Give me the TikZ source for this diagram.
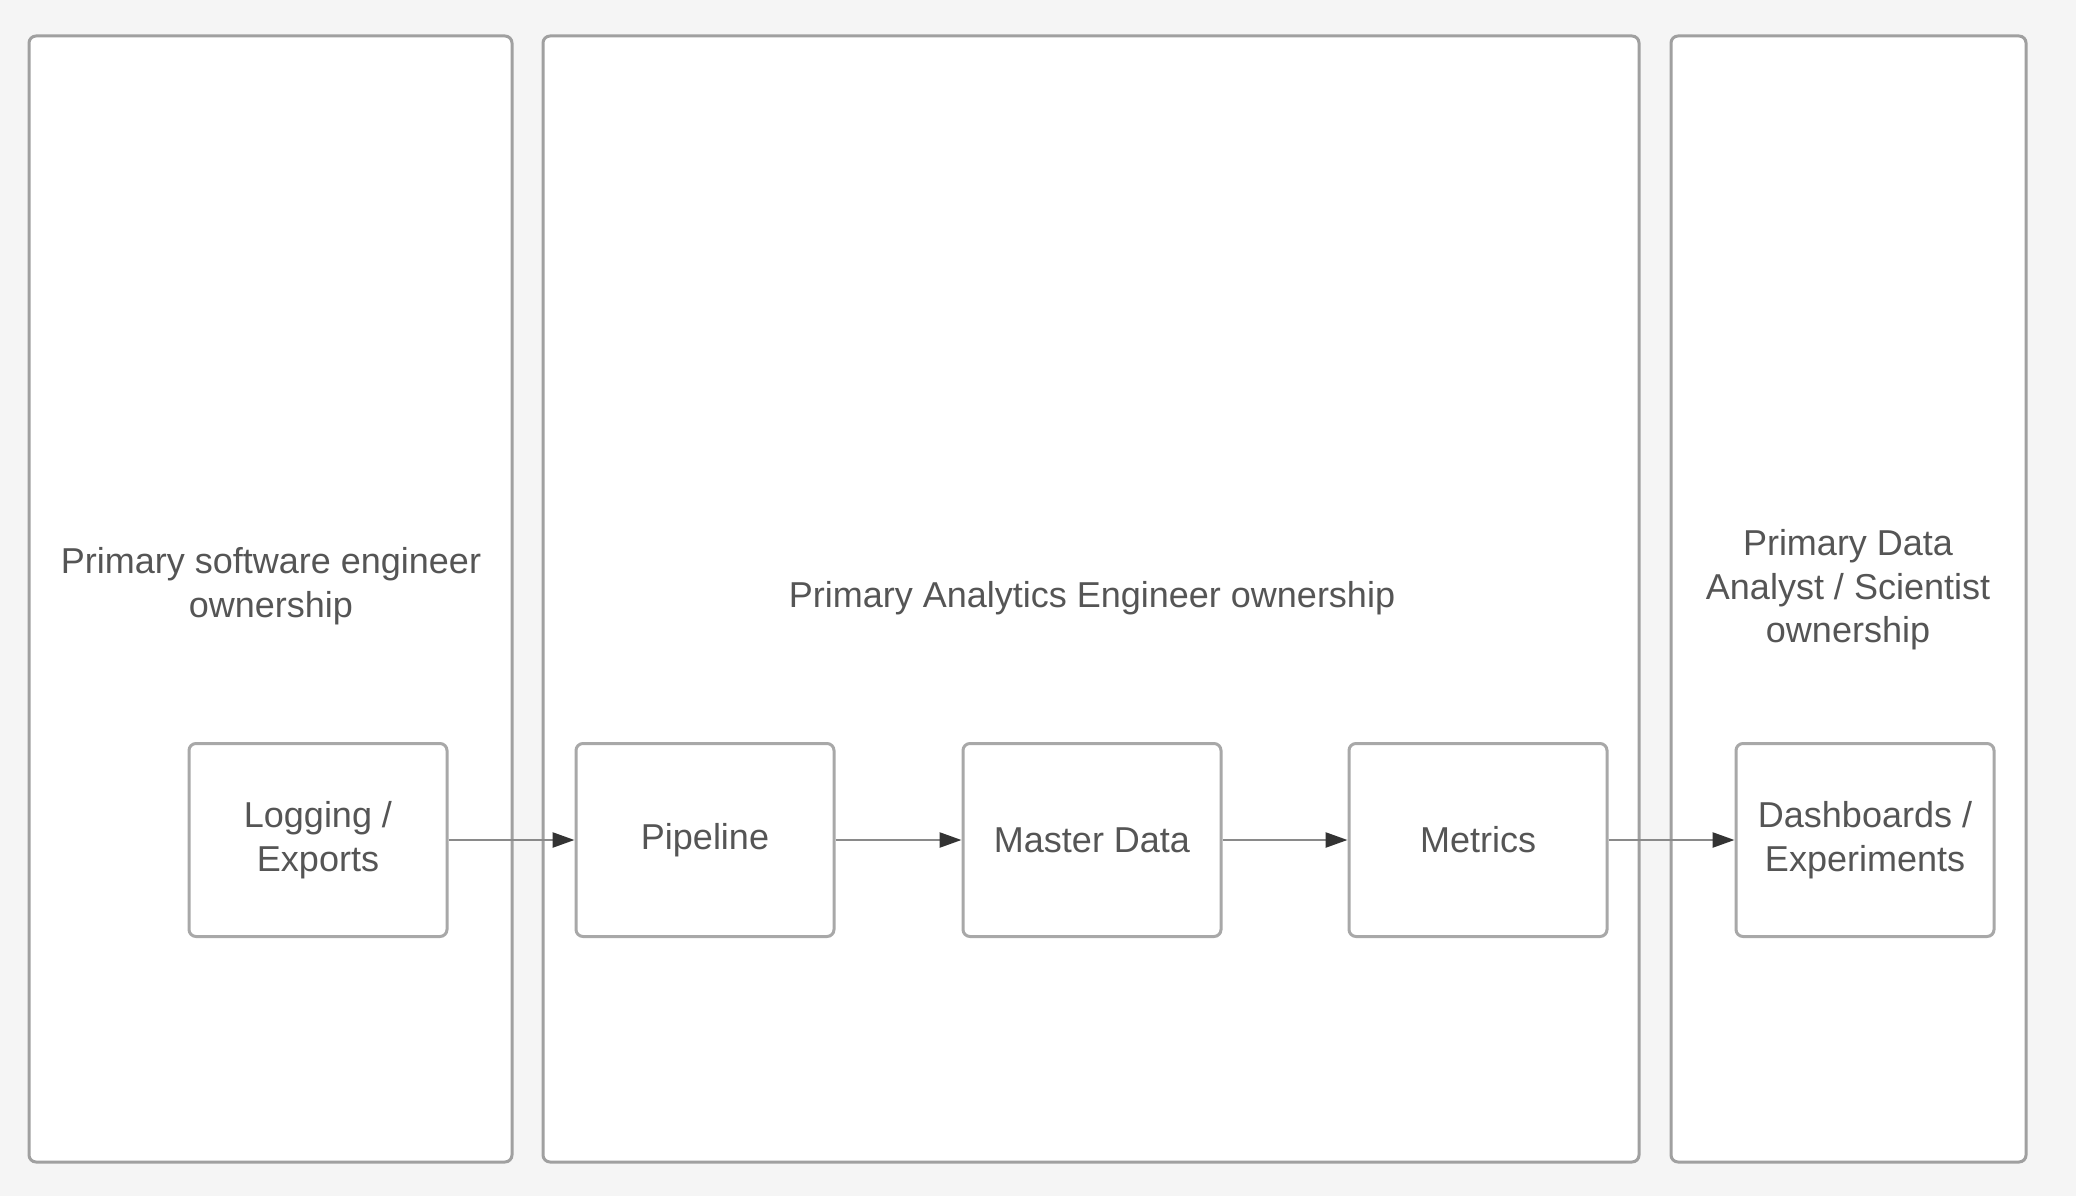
\documentclass[tikz,border=0pt]{standalone}
\usepackage{fontspec}
\setmainfont{Liberation Sans}
\usetikzlibrary{arrows.meta}
\definecolor{bgc}{HTML}{F5F5F5}
\definecolor{panelline}{HTML}{A0A0A0}
\definecolor{boxline}{HTML}{A8A8A8}
\definecolor{txt}{HTML}{555555}
\definecolor{arr}{HTML}{8A8A8A}
\definecolor{tip}{HTML}{333333}
\begin{document}
\begin{tikzpicture}[x=1pt,y=-1pt,
  panel/.style={draw=panelline,line width=3pt,fill=white,rounded corners=7pt},
  stagebox/.style={draw=boxline,line width=3pt,fill=white,rounded corners=7pt,
    minimum width=258pt,minimum height=193pt,inner sep=0pt,align=center,
    text=txt,font=\fontsize{36}{44}\selectfont},
  lbl/.style={align=center,text=txt,font=\fontsize{36}{43.5}\selectfont,inner sep=0pt},
  flow/.style={draw=arr,line width=2.5pt,-{Triangle[length=22pt,width=15pt,color=tip]}}]
\useasboundingbox (0,0) rectangle (2076,1196);
\fill[bgc] (0,0) rectangle (2076,1196);
% panels
\draw[panel] (29,36) rectangle (512,1162);
\draw[panel] (543,36) rectangle (1639,1162);
\draw[panel] (1671,36) rectangle (2026,1162);
% labels
\node[lbl] (l1) at (271,586) {Primary software engineer\\ownership};
\node[lbl] (l2) at (1092,598) {Primary Analytics Engineer ownership};
\node[lbl] (l3) at (1848,590) {Primary Data\\Analyst / Scientist\\ownership};
% stage boxes
\node[stagebox] (log) at (318,840) {Logging /\\Exports};
\node[stagebox] (pipe) at (705,840) {Pipeline};
\node[stagebox] (master) at (1092,840) {Master Data};
\node[stagebox] (metrics) at (1478,840) {Metrics};
\node[stagebox] (dash) at (1865,840) {Dashboards /\\Experiments};
% connectors
\draw[flow] (log.east) -- (pipe.west);
\draw[flow] (pipe.east) -- (master.west);
\draw[flow] (master.east) -- (metrics.west);
\draw[flow] (metrics.east) -- (dash.west);
\end{tikzpicture}
\end{document}
